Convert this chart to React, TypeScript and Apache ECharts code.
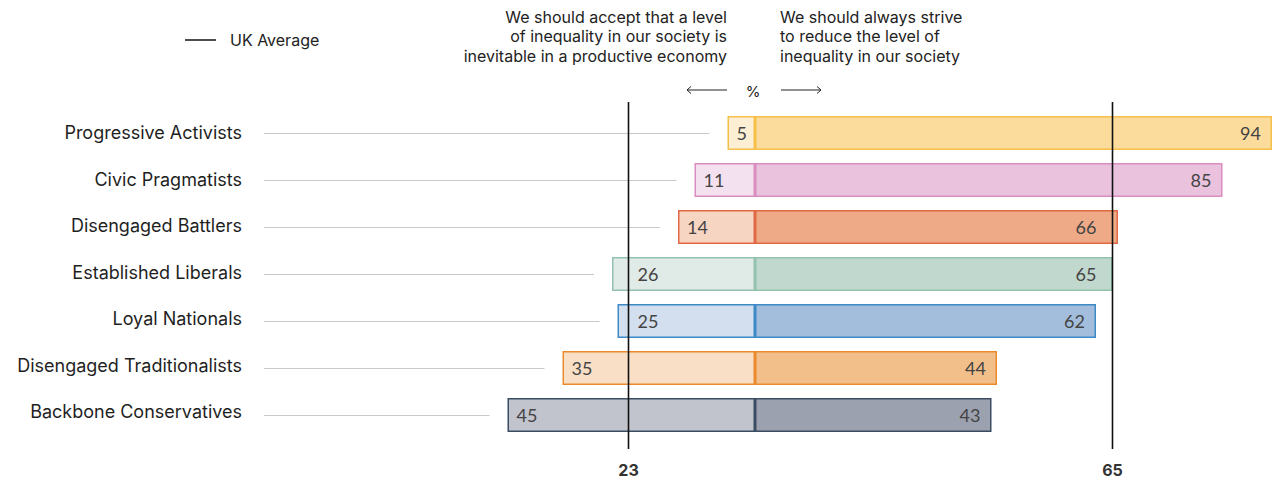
import React, { useEffect, useRef } from "react";
import * as echarts from "echarts";

const categories = [
  "Progressive Activists",
  "Civic Pragmatists",
  "Disengaged Battlers",
  "Established Liberals",
  "Loyal Nationals",
  "Disengaged Traditionalists",
  "Backbone Conservatives",
];
const acceptValues = [5, 11, 14, 26, 25, 35, 45];
const reduceValues = [94, 85, 66, 65, 62, 44, 43];
const ukAverageAccept = 23;
const ukAverageReduce = 65;

const leftFills = ["#FDEFD3", "#F4E1F0", "#F7D5C3", "#E0EAE6", "#D3DEEE", "#F9DFC5", "#C1C4CD"];
const rightFills = ["#FBDC9D", "#EAC2DE", "#EEAA87", "#C0D8CD", "#A3BDDC", "#F2BF8A", "#9CA1AF"];
const borderColors = ["#F6C04A", "#DA8EC0", "#E06845", "#93C2AF", "#3D8AC6", "#EA8A2C", "#3B4D63"];

const leftHeader = [
  "We should accept that a level",
  "of inequality in our society is",
  "inevitable in a productive economy",
];
const rightHeader = ["We should always strive", "to reduce the level of", "inequality in our society"];

const FONT = "Inter, 'Noto Sans', sans-serif";
const NUM_FONT = "Lato, 'Noto Sans', sans-serif";

const X_MIN = -90;
const X_MAX = 94;
const GRID_LEFT = 260;
const GRID_RIGHT = 5;
const WIDTH = 1277;
const PX_PER_UNIT = (WIDTH - GRID_LEFT - GRID_RIGHT) / (X_MAX - X_MIN);

export default function App() {
  const ref = useRef<HTMLDivElement>(null);

  useEffect(() => {
    if (!ref.current) return;
    const chart = echarts.init(ref.current, null, { renderer: "svg" });

    // keep value labels clear of the UK-average lines
    const leftDistance = (v: number) =>
      v > ukAverageAccept && v - ukAverageAccept < 4 ? (v - ukAverageAccept) * PX_PER_UNIT + 9 : 9;
    const rightDistance = (v: number) =>
      v >= ukAverageReduce && v - ukAverageReduce < 4 ? (v - ukAverageReduce) * PX_PER_UNIT + 16 : 11;

    const rich: any = {};
    categories.forEach((_, i) => {
      rich["r" + i] = {
        fontSize: 18,
        color: "#1f1f1f",
        fontFamily: FONT,
        padding: [0, 0, 1 + i, 0],
      };
    });

    const option: any = {
      animation: false,
      grid: { left: GRID_LEFT, right: GRID_RIGHT, top: 109.5, bottom: 42.5 },
      xAxis: { type: "value", min: X_MIN, max: X_MAX, show: false },
      yAxis: {
        type: "category",
        data: categories,
        inverse: true,
        axisLine: { show: false },
        axisTick: { show: false },
        splitLine: { show: false },
        axisLabel: {
          margin: 18,
          fontSize: 18,
          color: "#1f1f1f",
          fontFamily: FONT,
          formatter: (val: string, idx: number) => `{r${idx}|${val}}`,
          rich,
        },
      },
      legend: {
        left: 180,
        top: 27,
        icon: "rect",
        itemWidth: 31,
        itemHeight: 1.5,
        data: ["UK Average"],
        textStyle: { fontSize: 16, color: "#222", fontFamily: FONT, padding: [0, 0, 0, 9] },
        selectedMode: false,
      },
      graphic: [
        {
          type: "text",
          style: {
            text: leftHeader.join("\n"),
            x: 727,
            y: 7,
            align: "right",
            verticalAlign: "top",
            lineHeight: 19.5,
            font: `16px ${FONT}`,
            fill: "#222",
          },
        },
        {
          type: "text",
          style: {
            text: rightHeader.join("\n"),
            x: 780,
            y: 7,
            align: "left",
            verticalAlign: "top",
            lineHeight: 19.5,
            font: `16px ${FONT}`,
            fill: "#222",
          },
        },
        {
          type: "text",
          style: {
            text: "%",
            x: 753,
            y: 91,
            align: "center",
            verticalAlign: "middle",
            font: `15px ${FONT}`,
            fill: "#222",
          },
        },
        { type: "line", shape: { x1: 687, y1: 90, x2: 727, y2: 90 }, style: { stroke: "#222", lineWidth: 1 } },
        { type: "polyline", shape: { points: [[691, 86.5], [687, 90], [691, 93.5]] }, style: { stroke: "#222", lineWidth: 1, fill: null } },
        { type: "line", shape: { x1: 781, y1: 90, x2: 821, y2: 90 }, style: { stroke: "#222", lineWidth: 1 } },
        { type: "polyline", shape: { points: [[817, 86.5], [821, 90], [817, 93.5]] }, style: { stroke: "#222", lineWidth: 1, fill: null } },
      ],
      series: [
        {
          type: "custom",
          name: "connector",
          silent: true,
          z: 1,
          encode: { x: 0, y: 1 },
          data: acceptValues.map((v, i) => [-v, i]),
          renderItem: (params: any, api: any) => {
            const end = api.coord([api.value(0), api.value(1)]);
            const cs = params.coordSys;
            return {
              type: "line",
              shape: { x1: cs.x + 4, y1: end[1] + 0.5, x2: end[0] - 18, y2: end[1] + 0.5 },
              style: { stroke: "#c9c9c9", lineWidth: 1.2 },
            };
          },
        },
        {
          type: "bar",
          name: "accept",
          stack: "s",
          barWidth: 34,
          z: 2,
          data: acceptValues.map((v, i) => ({
            value: -v,
            itemStyle: { color: leftFills[i], borderColor: borderColors[i], borderWidth: 1.5 },
            label: { distance: leftDistance(v) },
          })),
          label: {
            show: true,
            position: "insideLeft",
            formatter: (p: any) => String(Math.abs(p.value)),
            fontSize: 18,
            color: "#444",
            fontFamily: NUM_FONT,
          },
        },
        {
          type: "bar",
          name: "reduce",
          stack: "s",
          barWidth: 34,
          z: 2,
          data: reduceValues.map((v, i) => ({
            value: v,
            itemStyle: { color: rightFills[i], borderColor: borderColors[i], borderWidth: 1.5 },
            label: { distance: rightDistance(v) },
          })),
          label: {
            show: true,
            position: "insideRight",
            fontSize: 18,
            color: "#444",
            fontFamily: NUM_FONT,
          },
        },
        {
          type: "custom",
          name: "UK Average",
          silent: true,
          z: 10,
          itemStyle: { color: "#111" },
          encode: { x: 0, y: 1 },
          data: [
            [-ukAverageAccept, 0],
            [ukAverageReduce, 0],
          ],
          renderItem: (params: any, api: any) => {
            const v = api.value(0);
            const p = api.coord([v, 0]);
            const cs = params.coordSys;
            return {
              type: "group",
              children: [
                {
                  type: "line",
                  shape: { x1: p[0], y1: cs.y - 7.5, x2: p[0], y2: cs.y + cs.height + 10.5 },
                  style: { stroke: "#111", lineWidth: 1.6 },
                },
                {
                  type: "text",
                  style: {
                    text: String(Math.abs(v)),
                    x: p[0],
                    y: 470,
                    align: "center",
                    verticalAlign: "middle",
                    font: `bold 16px ${FONT}`,
                    fill: "#333",
                  },
                },
              ],
            };
          },
        },
      ],
    };

    chart.setOption(option);
    return () => chart.dispose();
  }, []);

  return (
    <div
      ref={ref}
      style={{ position: "absolute", left: 0, top: 0, width: 1277, height: 481, background: "#fff" }}
    />
  );
}
